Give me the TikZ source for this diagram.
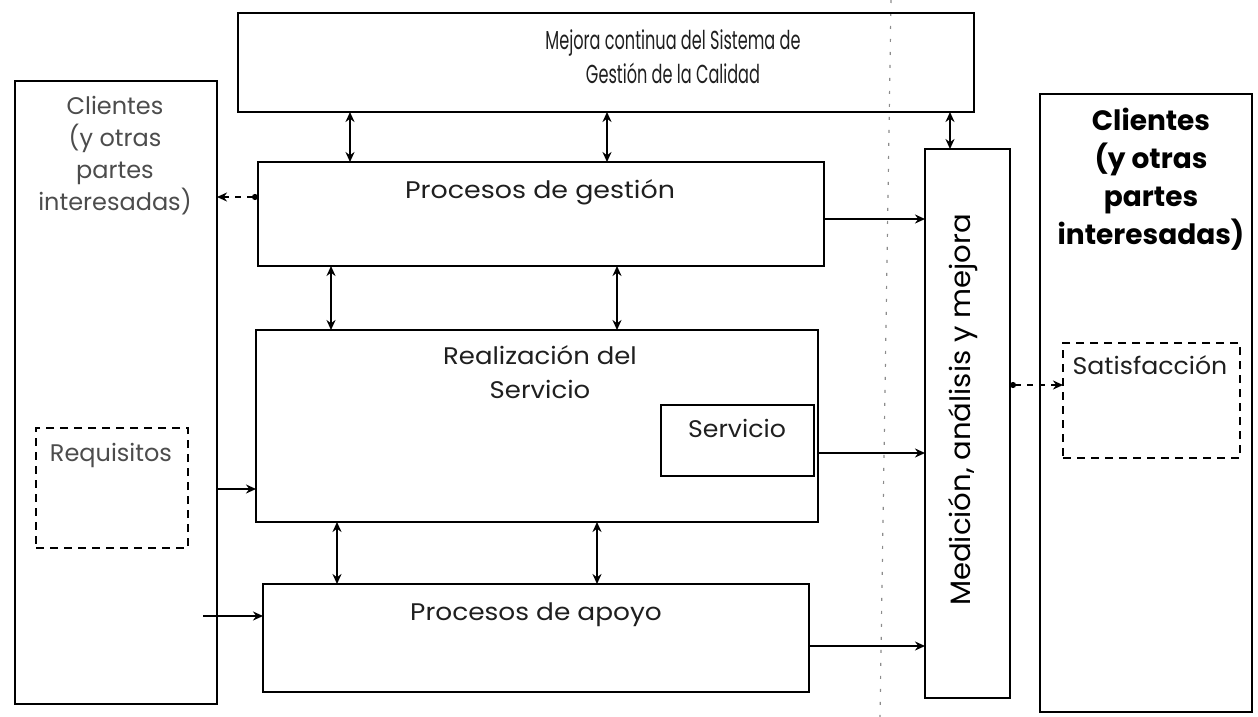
\documentclass[tikz,border=0pt]{standalone}
\usepackage{fontspec}
\setmainfont{Poppins}
\usetikzlibrary{arrows.meta}
\newcommand{\sx}[2]{\scalebox{#1}[1]{#2}}
\newcommand{\stack}[3]{\fontsize{#1}{#2}\selectfont\begin{tabular}{@{}c@{}}#3\end{tabular}}
\begin{document}
\begin{tikzpicture}[x=0.5pt,y=-0.5pt,
  box/.style={draw,line width=1.2pt,inner sep=0pt,outer sep=0pt,fill=none},
  dbox/.style={draw,line width=1.1pt,dash pattern=on 4pt off 3pt,inner sep=0pt,outer sep=0pt},
  txt/.style={inner sep=0pt,outer sep=0pt,text=black!88},
  link/.style={line width=1pt},
  dlink/.style={line width=1pt,dash pattern=on 3pt off 3pt}]
\useasboundingbox (0,0) rectangle (1258,717);
% faint scan fold line
\draw[black!45,line width=0.6pt,dash pattern=on 1.5pt off 5pt] (891,0) -- (880,717);
% boxes
\node[box,minimum width=368pt,minimum height=49.5pt] (top) at (606,62.5) {};
\node[box,minimum width=101pt,minimum height=311.5pt] (cliL) at (116,392.5) {};
\node[box,minimum width=283pt,minimum height=52pt] (gest) at (541,214) {};
\node[box,minimum width=281pt,minimum height=96pt] (real) at (537,426) {};
\node[box,minimum width=76.5pt,minimum height=35.5pt] (serv) at (737.5,440.5) {};
\node[box,minimum width=273pt,minimum height=54pt] (apoyo) at (536,638) {};
\node[box,minimum width=42.5pt,minimum height=274.5pt] (med) at (967.5,423.5) {};
\node[box,minimum width=106pt,minimum height=309pt] (cliR) at (1146,403) {};
\node[dbox,minimum width=76pt,minimum height=60pt] (req) at (112,488) {};
\node[dbox,minimum width=88.5pt,minimum height=57.5pt] (sat) at (1151.5,400.5) {};
% texts
\node[txt] (tmej) at (673,60) {\sx{0.62}{\stack{13}{17}{Mejora continua del Sistema de\\Gestión de la Calidad}}};
\node[txt] (tgest) at (540,192) {\sx{1.12}{\fontsize{12}{14}\selectfont Procesos de gestión}};
\node[txt] (treal) at (540,375) {\sx{1.08}{\stack{12}{17}{Realización del\\Servicio}}};
\node[txt] (tserv) at (737,428) {\sx{1.05}{\fontsize{12}{14}\selectfont Servicio}};
\node[txt] (tapoyo) at (536,615) {\sx{1.1}{\fontsize{12}{14}\selectfont Procesos de apoyo}};
\node[txt,text=black!70] (treq) at (111,455) {\fontsize{12}{14}\selectfont Requisitos};
\node[txt] (tsat) at (1150,365) {\sx{1.05}{\fontsize{12}{14}\selectfont Satisfacción}};
\node[txt,text=black!70] (tcliL) at (115,156) {\stack{12}{16}{Clientes\\(y otras\\partes\\interesadas)}};
\node[txt,text=black] (tcliR) at (1151,180) {\bfseries\stack{14}{19}{Clientes\\(y otras\\partes\\interesadas)}};
\node[txt,text=black,rotate=90] (tmed) at (963,410) {\sx{1.04}{\fontsize{14}{16}\selectfont Medición, análisis y mejora}};
% column / row helper coordinates
\coordinate (c350) at (350,0);
\coordinate (c607) at (607,0);
\coordinate (c331) at (331,0);
\coordinate (c617) at (617,0);
\coordinate (c337) at (337,0);
\coordinate (c597) at (597,0);
\coordinate (c950) at (950,0);
\coordinate (r197) at (0,197);
\coordinate (r219) at (0,219);
\coordinate (r453) at (0,453);
\coordinate (r489) at (0,489);
\coordinate (r616) at (0,616);
\coordinate (r646) at (0,646);
\coordinate (r385) at (0,385);
\coordinate (s616) at (203,616);
% vertical double arrows
\draw[link,{Stealth[length=5pt,width=4.5pt]}-{Stealth[length=5pt,width=4.5pt]}] (top.south -| c350) -- (gest.north -| c350);
\draw[link,{Stealth[length=5pt,width=4.5pt]}-{Stealth[length=5pt,width=4.5pt]}] (top.south -| c607) -- (gest.north -| c607);
\draw[link,{Stealth[length=5pt,width=4.5pt]}-{Stealth[length=5pt,width=4.5pt]}] (gest.south -| c331) -- (real.north -| c331);
\draw[link,{Stealth[length=5pt,width=4.5pt]}-{Stealth[length=5pt,width=4.5pt]}] (gest.south -| c617) -- (real.north -| c617);
\draw[link,{Stealth[length=5pt,width=4.5pt]}-{Stealth[length=5pt,width=4.5pt]}] (real.south -| c337) -- (apoyo.north -| c337);
\draw[link,{Stealth[length=5pt,width=4.5pt]}-{Stealth[length=5pt,width=4.5pt]}] (real.south -| c597) -- (apoyo.north -| c597);
\draw[link,{Stealth[length=5pt,width=4.5pt]}-{Stealth[length=5pt,width=4.5pt]}] (top.south -| c950) -- (med.north -| c950);
% horizontal arrows
\draw[link,-{Stealth[length=5pt,width=4.5pt]}] (gest.east |- r219) -- (med.west |- r219);
\draw[link,-{Stealth[length=5pt,width=4.5pt]}] (real.east |- r453) -- (med.west |- r453);
\draw[link,-{Stealth[length=5pt,width=4.5pt]}] (apoyo.east |- r646) -- (med.west |- r646);
\draw[link,-{Stealth[length=5pt,width=4.5pt]}] (cliL.east |- r489) -- (real.west |- r489);
\draw[link,-{Stealth[length=5pt,width=4.5pt]}] (s616) -- (apoyo.west |- r616);
\draw[dlink,{Stealth[length=5pt,width=4.5pt]}-{Circle[length=3pt]}] (cliL.east |- r197) -- (gest.west |- r197);
\draw[dlink,{Circle[length=3pt]}-{Stealth[length=5pt,width=4.5pt]}] (med.east |- r385) -- (sat.west |- r385);
\end{tikzpicture}
\end{document}
